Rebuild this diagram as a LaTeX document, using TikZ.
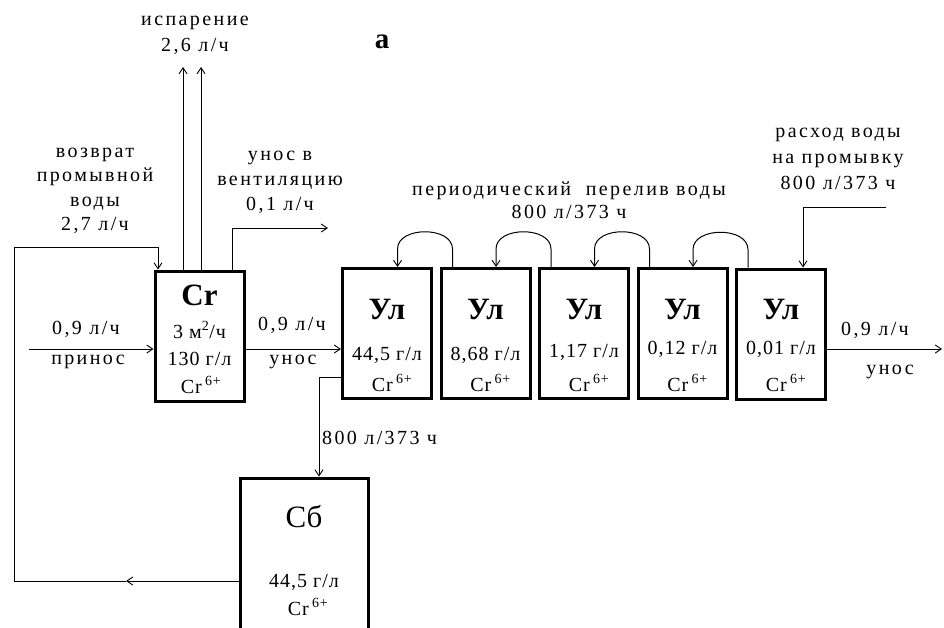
\documentclass[tikz,border=0pt]{standalone}
\usepackage{fontspec}
\setmainfont{Liberation Serif}[LetterSpace=12]
\newfontfamily\titlefont{Liberation Serif}
\newfontfamily\boxfont{Liberation Serif}[LetterSpace=5]
\usetikzlibrary{arrows.meta}
\begin{document}
\begin{tikzpicture}[x=1pt,y=-1pt,
  >={Straight Barb[length=6pt,width=8pt,line width=0.9pt]},
  conn/.style={line width=1pt},
  tank/.style={draw,line width=3pt,minimum width=89pt,minimum height=130pt,inner sep=0pt},
  lbl/.style={font=\fontsize{20}{25}\selectfont,align=center,inner sep=0pt},
  inbox/.style={font=\boxfont\fontsize{20}{25}\selectfont,align=center,inner sep=0pt},
  big/.style={font=\titlefont\fontsize{31}{31}\selectfont\bfseries,inner sep=0pt},
  bigr/.style={font=\titlefont\fontsize{31}{31}\selectfont,inner sep=0pt}
]
\useasboundingbox (0,0) rectangle (944,627);
% tanks
\node[tank] (cr) at (199.5,336) {};
\node[tank] (u1) at (387,333.5) {};
\node[tank] (u2) at (485.5,333.5) {};
\node[tank] (u3) at (584,333.5) {};
\node[tank] (u4) at (682.5,333.5) {};
\node[tank] (u5) at (781,334) {};
\node[tank,minimum width=128pt,minimum height=180pt] (sb) at (304,568) {};
% tank texts
\node[big] (crT) at (199.5,295) {Cr};
\node[inbox] (crA) at (199.5,330) {3 м\textsuperscript{2}/ч};
\node[inbox] (crB) at (199.5,359) {130 г/л};
\node[inbox] (crC) at (201,385) {Cr\,\textsuperscript{6+}};
\foreach \n/\c/\y in {u1/{44,5 г/л}/355, u2/{8,68 г/л}/355, u3/{1,17 г/л}/352, u4/{0,12 г/л}/349, u5/{0,01 г/л}/349}{
  \node[big] (\n T) at (\n.center |- 0,309) {Ул};
  \node[inbox] (\n C) at (\n.center |- 0,\y) {\c};
  \node[inbox] (\n I) at ([xshift=5pt]\n.center |- 0,383) {Cr\,\textsuperscript{6+}};
}
\node[bigr] (sbT) at (304,517) {Сб};
\node[inbox] (sbC) at (304,582) {44,5 г/л};
\node[inbox] (sbI) at (308,607) {Cr\,\textsuperscript{6+}};
% labels
\node[lbl,font=\fontsize{20}{26}\selectfont] (evL) at (195,35) {испарение\\2,6 л/ч};
\node[font=\titlefont\fontsize{29}{29}\selectfont\bfseries,inner sep=0pt] (aL) at (382,42) {а};
\node[lbl,font=\fontsize{20}{24.5}\selectfont] (retL) at (95,191) {возврат\\промывной\\воды\\2,7 л/ч};
\node[lbl] (vL) at (280,182) {унос в\\вентиляцию\\0,1 л/ч};
\node[lbl] (inA) at (86,329) {0,9 л/ч};
\node[lbl] (inB) at (88,362) {принос};
\node[lbl] (mA) at (292,325) {0,9 л/ч};
\node[lbl] (mB) at (293,362) {унос};
\node[lbl] (oA) at (875,330) {0,9 л/ч};
\node[lbl] (oB) at (890,372) {унос};
\node[lbl,font=\fontsize{20}{23}\selectfont] (ovL) at (569,200) {периодический\ \ перелив воды\\800 л/373 ч};
\node[lbl,font=\fontsize{20}{26}\selectfont] (wL) at (838,159) {расход воды\\на промывку\\800 л/373 ч};
\node[lbl,anchor=west] (sL) at (322,438) {800 л/373 ч};
% coordinates
\coordinate (in) at (29,349);
\coordinate (out) at (942,349);
\coordinate (ev1) at (183,67);
\coordinate (ev2) at (201,67);
\coordinate (v0) at (232,228);
\coordinate (v1) at (328,228);
\coordinate (r0) at (126,581);
\coordinate (r1) at (14,581);
\coordinate (r2) at (14,247);
\coordinate (r3) at (158,247);
\coordinate (s0) at (319,377);
\coordinate (w0) at (886,207);
\coordinate (w1) at (803,207);
% connectors
\draw[conn,->] (in) -- (in -| cr.west);
\draw[conn,->] (in -| cr.east) -- (in -| u1.west);
\draw[conn,->] (in -| u5.east) -- (out);
\draw[conn,->] (ev1 |- cr.north) -- (ev1);
\draw[conn,->] (ev2 |- cr.north) -- (ev2);
\draw[conn,->] (v0 |- cr.north) -- (v0) -- (v1);
\draw[conn,->] (r0 -| sb.west) -- (r0);
\draw[conn,->] (r0) -- (r1) -- (r2) -- (r3) -- (r3 |- cr.north);
\draw[conn,->] (s0 -| u1.west) -- (s0) -- (s0 |- sb.north);
\draw[conn,->] (w0) -- (w1) -- (w1 |- u5.north);
\foreach \a/\b in {u1/u2,u2/u3,u3/u4,u4/u5}{
  \draw[conn,->] ([xshift=13pt]\b.north west) -- ++(0,-18)
     .. controls +(0,-23) and +(0,-23) .. ([xshift=-42pt,yshift=18pt]\b.north west)
     -- ([xshift=-42pt]\b.north west |- \a.north);
}
\end{tikzpicture}
\end{document}
